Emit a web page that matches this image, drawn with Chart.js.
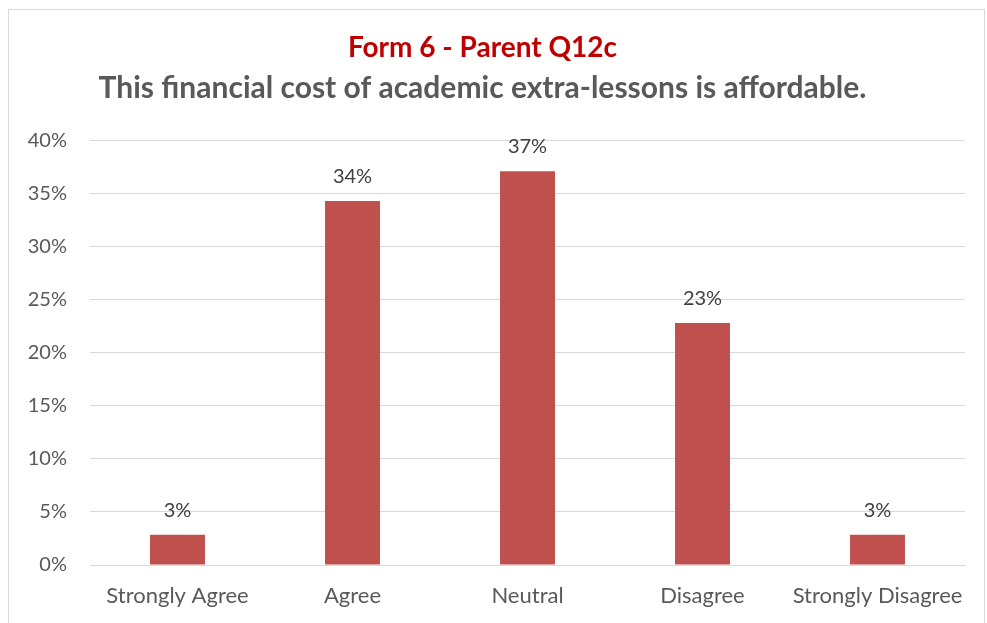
<!DOCTYPE html>
<html>
<head>
<meta charset="utf-8">
<script src="https://cdn.jsdelivr.net/npm/chart.js@4.4.0/dist/chart.umd.min.js"></script>
<style>
  html, body { margin: 0; padding: 0; background: #ffffff; overflow: hidden; }
  #frame { position: absolute; left: 8px; top: 9px; width: 977px; height: 640px; border: 1px solid #d9d9d9; box-sizing: border-box; }
  #wrap { position: absolute; left: 0; top: 0; width: 987px; height: 623px; }
  canvas { display: block; }
</style>
</head>
<body>
<div id="frame"></div>
<div id="wrap"><canvas id="c" width="987" height="623"></canvas></div>
<script>
const titleText = "Form 6 - Parent Q12c";
const subtitleText = "This financial cost of academic extra-lessons is affordable.";
const categories = ["Strongly Agree", "Agree", "Neutral", "Disagree", "Strongly Disagree"];
const values = [2.85, 34.3, 37.1, 22.8, 2.85];
const valueLabels = ["3%", "34%", "37%", "23%", "3%"];
const yTicks = [0, 5, 10, 15, 20, 25, 30, 35, 40];

const FONT = "Lato";

const labelPlugin = {
  id: 'valueLabels',
  afterDatasetsDraw(chart) {
    const ctx = chart.ctx;
    const meta = chart.getDatasetMeta(0);
    ctx.save();
    ctx.font = "20px " + FONT;
    ctx.fillStyle = "#404040";
    ctx.textAlign = "center";
    ctx.textBaseline = "alphabetic";
    meta.data.forEach((bar, i) => {
      ctx.fillText(valueLabels[i], bar.x, bar.y - 18);
    });
    ctx.restore();
  }
};

new Chart(document.getElementById('c'), {
  type: 'bar',
  data: {
    labels: categories,
    datasets: [{
      data: values,
      backgroundColor: "#C0504D",
      borderWidth: 0,
      categoryPercentage: 1,
      barPercentage: 0.314
    }]
  },
  options: {
    responsive: false,
    animation: false,
    layout: { padding: { left: 0, right: 22, top: 0, bottom: 0 } },
    plugins: {
      legend: { display: false },
      tooltip: { enabled: false },
      title: {
        display: true,
        text: titleText,
        color: "#C00000",
        font: { family: FONT, size: 28, weight: 'bold', lineHeight: 1.2 },
        padding: { top: 31.5, bottom: 0 }
      },
      subtitle: {
        display: true,
        text: subtitleText,
        color: "#595959",
        font: { family: FONT, size: 30, weight: 'bold', lineHeight: 1.2 },
        padding: { top: 5, bottom: 34.5 }
      }
    },
    scales: {
      x: {
        afterFit(scale) { scale.height = 58; },
        grid: { display: false, drawTicks: false },
        border: { display: true, color: "#D9D9D9", width: 1 },
        ticks: { color: "#595959", font: { family: FONT, size: 22 }, padding: 18, maxRotation: 0, autoSkip: false }
      },
      y: {
        min: 0, max: 40,
        afterBuildTicks(scale) { scale.ticks = yTicks.map(v => ({ value: v })); },
        afterFit(scale) { scale.width = 90; },
        grid: { color: "#D9D9D9", lineWidth: 1, drawTicks: false },
        border: { display: false },
        ticks: {
          color: "#595959",
          font: { family: FONT, size: 20 },
          padding: 23,
          callback: v => v + "%"
        }
      }
    }
  },
  plugins: [labelPlugin]
});
</script>
</body>
</html>
